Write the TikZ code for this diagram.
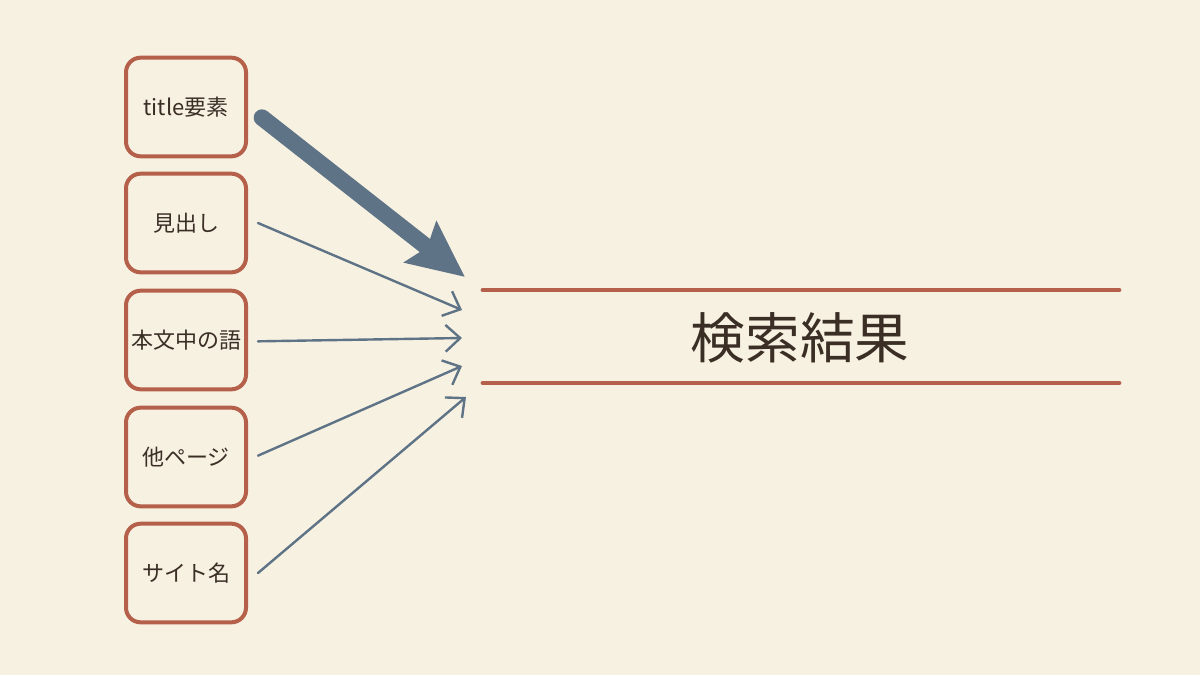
\documentclass[tikz,border=0pt]{standalone}
\usepackage{fontspec}
\setmainfont{Noto Sans CJK JP}
\usetikzlibrary{arrows.meta}
\definecolor{bg}{HTML}{F7F1E2}
\definecolor{rust}{HTML}{B5604A}
\definecolor{slate}{HTML}{5E7386}
\definecolor{ink}{HTML}{3A2E25}
\tikzset{
  srcbox/.style={draw=rust, line width=3pt, rounded corners=11pt, minimum width=90pt, minimum height=74pt, text=ink, font=\fontsize{16.5pt}{18pt}\selectfont, inner sep=0pt},
  thin/.style={draw=slate, line width=1.8pt, line cap=round, -{Straight Barb[length=11pt, width=20pt, line width=1.8pt]}},
  bigarrow/.style={draw=slate, line width=12.5pt, line cap=round, -{Stealth[length=42pt, width=38pt, inset=6pt]}},
  rule/.style={draw=rust, line width=3.6pt, line cap=round}
}
\begin{document}
\begin{tikzpicture}[x=0.75pt, y=-0.75pt]
\fill[bg] (0,0) rectangle (1200,675);
\useasboundingbox (0,0) rectangle (1200,675);
\node[srcbox] (b1) at (186,107) {title要素};
\node[srcbox] (b2) at (186,223) {見出し};
\node[srcbox] (b3) at (186,340) {本文中の語};
\node[srcbox] (b4) at (186,457) {他ページ};
\node[srcbox] (b5) at (186,573) {サイト名};
\coordinate (t1) at (465,277);
\coordinate (t2) at (462,310);
\coordinate (t3) at (462,338);
\coordinate (t4) at (462,366);
\coordinate (t5) at (466,397);
\coordinate (l1a) at (483,290);
\coordinate (l1b) at (1119,290);
\coordinate (l2a) at (483,383);
\coordinate (l2b) at (1119,383);
\draw[rule] (l1a) -- (l1b);
\draw[rule] (l2a) -- (l2b);
\node[text=ink, font=\fontsize{41pt}{45pt}\selectfont] (res) at (800,338) {検索結果};
\draw[bigarrow] ([xshift=57pt, yshift=-8pt]b1.center) -- (t1);
\draw[thin] ([xshift=54pt]b2.center) -- (t2);
\draw[thin] ([xshift=54pt, yshift=-1pt]b3.center) -- (t3);
\draw[thin] ([xshift=54pt, yshift=1pt]b4.center) -- (t4);
\draw[thin] ([xshift=54pt, yshift=0pt]b5.center) -- (t5);
\end{tikzpicture}
\end{document}
